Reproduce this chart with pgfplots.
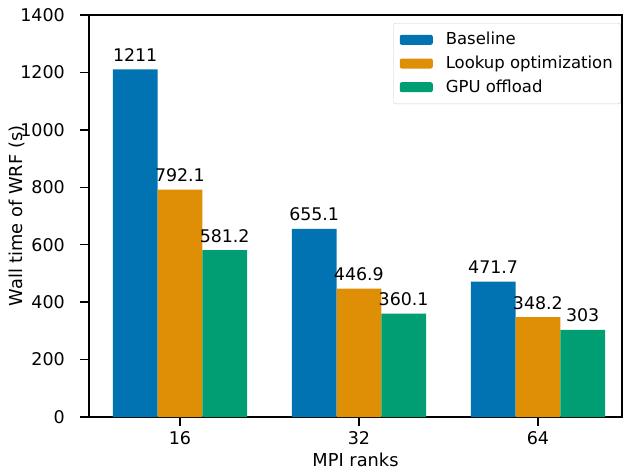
\documentclass[border=0pt]{standalone}
\usepackage{fontspec}
\setmainfont{DejaVu Sans}
\usepackage{pgfplots}
\pgfplotsset{compat=1.18}
\definecolor{cbBlue}{HTML}{0173B2}
\definecolor{cbOrange}{HTML}{DE8F05}
\definecolor{cbGreen}{HTML}{029E73}
\begin{document}
\fontsize{17.8bp}{21bp}\selectfont
\begin{tikzpicture}
\useasboundingbox (-89bp,-53bp) rectangle (534bp,417bp);
\begin{axis}[
  at={(0,0)}, anchor=south west,
  scale only axis,
  width=533bp, height=402bp,
  xmin=-0.508, xmax=2.47,
  ymin=0, ymax=1400,
  xtick={0,1,2}, xticklabels={16,32,64},
  ytick={0,200,...,1400},
  tick align=outside,
  major tick length=9bp,
  tick style={line width=1.3bp, black},
  axis line style={line width=1.3bp},
  xtick pos=bottom, ytick pos=left,
  /pgf/number format/assume math mode=true,
  /pgf/number format/1000 sep={},
  ticklabel style={font=\fontsize{17.5bp}{20bp}\selectfont},
  yticklabel style={anchor=east, inner sep=0pt, xshift=-15bp},
  xticklabel style={anchor=center, inner sep=0pt, yshift=-12bp},
  every axis y label/.style={at={(axis description cs:-0.135,0.5)}, rotate=90, anchor=center, font=\fontsize{17.8bp}{21bp}\selectfont},
  every axis x label/.style={at={(axis description cs:0.5,-0.107)}, anchor=center, font=\fontsize{17.8bp}{21bp}\selectfont},
  xlabel={MPI ranks},
  ylabel={Wall time of WRF (s)},
  ybar=0pt,
  bar width=0.25,
  point meta=explicit symbolic,
  nodes near coords,
  every node near coord/.append style={anchor=base, inner sep=0pt, yshift=8bp, font=\fontsize{17.4bp}{20bp}\selectfont, black},
  legend cell align=left,
  legend image code/.code={\fill[#1] (0bp,-5bp) rectangle (33bp,5bp);},
  legend style={at={(0.998,0.980)}, anchor=north east, draw=black!20, rounded corners=2bp, fill=white, inner xsep=6bp, inner ysep=7bp, row sep=4.5bp, column sep=11bp, font=\fontsize{16.5bp}{19bp}\selectfont},
]
\addplot[bar shift=-0.25, fill=cbBlue, draw=none] table[meta=lab] {
x y lab
0 1211 1211
1 655.1 655.1
2 471.7 471.7
};
\addlegendentry{Baseline}
\addplot[bar shift=0, fill=cbOrange, draw=none] table[meta=lab] {
x y lab
0 792.1 792.1
1 446.9 446.9
2 348.2 348.2
};
\addlegendentry{Lookup optimization}
\addplot[bar shift=0.25, fill=cbGreen, draw=none] table[meta=lab] {
x y lab
0 581.2 581.2
1 360.1 360.1
2 303 303
};
\addlegendentry{GPU offload}
\end{axis}
\end{tikzpicture}
\end{document}
